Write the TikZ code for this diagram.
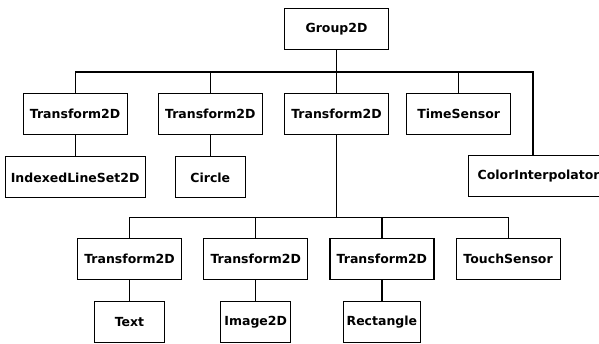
\documentclass[tikz,border=0pt]{standalone}
\usepackage{fontspec}
\usepackage{tikz}
\usetikzlibrary{positioning, calc}

\newfontfamily\boxfont{DejaVu Sans}

\begin{document}
\begin{tikzpicture}[
    x=1pt, y=1pt,
    node distance=21pt and 21pt,
    box/.style={rectangle, draw=black, line width=1.2pt, align=center, minimum height=41pt, minimum width=104pt, font=\boxfont\bfseries\fontsize{12.5}{14}\selectfont},
    leaf/.style={box, minimum width=70pt},
    link/.style={line width=1.2pt, draw=black}
]
    \useasboundingbox (0,0) rectangle (599,-344);

    \node [box] (group) at (336.5,-29) {Group2D};
    \node [box, below=43pt of group] (trans3) {Transform2D};
    \node [box, left=21pt of trans3] (trans2) {Transform2D};
    \node [box, left=30pt of trans2] (trans1) {Transform2D};
    \node [box, right=17pt of trans3] (timesens) {TimeSensor};
    \node [box, minimum width=140pt, anchor=north west] (colorint) at (468,-155) {ColorInterpolator};
    \node [box, minimum width=140pt, below=of trans1] (indexed) {IndexedLineSet2D};
    \node [leaf, below=of trans2] (circle) {Circle};

    \node [box] (trans4) at (129.5,-259) {Transform2D};
    \node [box, right=of trans4] (trans5) {Transform2D};
    \node [box, right=of trans5] (trans6) {Transform2D};
    \node [box, right=of trans6] (touch) {TouchSensor};
    \node [leaf, below=of trans4] (text) {Text};
    \node [leaf, below=of trans5] (image) {Image2D};
    \node [leaf, minimum width=77pt, below=of trans6] (rect) {Rectangle};

    % upper bus
    \coordinate (bus1) at ($(group.south)+(0,-22)$);
    \coordinate (cdrop) at ([xshift=65pt]colorint.north west);
    \draw [link] (group.south) -- (bus1);
    \draw [link] (trans1.north) |- (bus1) -| (cdrop);
    \foreach \n in {trans2, trans3, timesens}
        \draw [link] (\n.north) -- (\n.north |- bus1);
    \draw [link] (trans1) -- (indexed);
    \draw [link] (trans2) -- (circle);

    % lower bus
    \coordinate (bus2) at ($(trans3.south)+(0,-82)$);
    \draw [link] (trans3.south) -- (bus2);
    \draw [link] (trans4.north) |- (bus2) -| (touch.north);
    \foreach \n in {trans5, trans6}
        \draw [link] (\n.north) -- (\n.north |- bus2);
    \foreach \a/\b in {trans4/text, trans5/image, trans6/rect}
        \draw [link] (\a) -- (\b);
\end{tikzpicture}
\end{document}
